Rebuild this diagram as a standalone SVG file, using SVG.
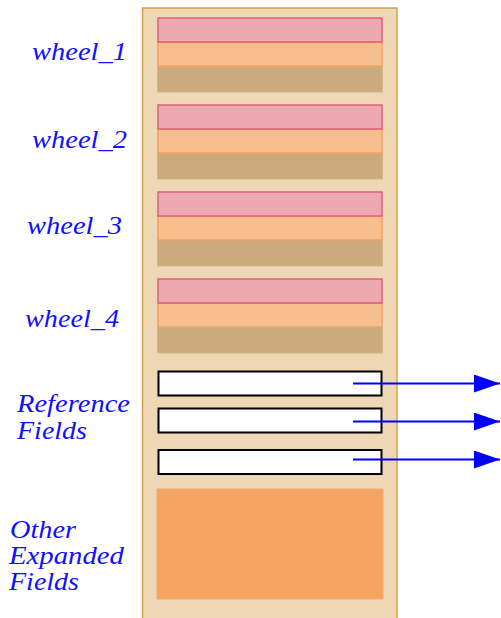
<svg xmlns="http://www.w3.org/2000/svg" width="501" height="618" viewBox="0 0 501 618">
<style>
.lbl{font-family:"Liberation Serif",serif;font-style:italic;font-size:25px;fill:#1010ff}
.pink{fill:#EDA9B0;stroke:#E06078;stroke-width:1.5}
.orng{fill:#F7BF8D;stroke:#F4A060;stroke-width:1.5}
.tan{fill:#CBAB7D;stroke:#D4B48A;stroke-width:1}
.ref{fill:#fff;stroke:#000;stroke-width:2}
.conn{stroke:#0000ff;stroke-width:2;fill:none}
</style>
<defs>
<marker id="ah" markerUnits="userSpaceOnUse" markerWidth="28" markerHeight="20" refX="26" refY="9" orient="auto">
<path d="M0,0 L26,9 L0,18 Z" fill="#0000ff"/>
</marker>
</defs>
<g id="object">
<rect x="142.5" y="8" width="254.5" height="612" fill="#EDD7B4" stroke="#D4A050" stroke-width="1.5"/>
</g>
<g id="wheel_1">
<rect class="tan" x="157.5" y="66" width="225" height="26"/>
<rect class="orng" x="158" y="42" width="224" height="24"/>
<rect class="pink" x="158" y="18" width="224" height="24"/>
<text class="lbl" x="32" y="60" textLength="95" lengthAdjust="spacingAndGlyphs">wheel_1</text>
</g>
<g id="wheel_2">
<rect class="tan" x="157.5" y="153" width="225" height="26"/>
<rect class="orng" x="158" y="129" width="224" height="24"/>
<rect class="pink" x="158" y="105" width="224" height="24"/>
<text class="lbl" x="32" y="148" textLength="95" lengthAdjust="spacingAndGlyphs">wheel_2</text>
</g>
<g id="wheel_3">
<rect class="tan" x="157.5" y="240" width="225" height="26"/>
<rect class="orng" x="158" y="216" width="224" height="24"/>
<rect class="pink" x="158" y="192" width="224" height="24"/>
<text class="lbl" x="27" y="234" textLength="95" lengthAdjust="spacingAndGlyphs">wheel_3</text>
</g>
<g id="wheel_4">
<rect class="tan" x="157.5" y="327" width="225" height="26"/>
<rect class="orng" x="158" y="303" width="224" height="24"/>
<rect class="pink" x="158" y="279" width="224" height="24"/>
<text class="lbl" x="25" y="327" textLength="94" lengthAdjust="spacingAndGlyphs">wheel_4</text>
</g>
<g id="reference_fields">
<rect class="ref" x="158.5" y="371.5" width="223" height="24"/>
<rect class="ref" x="158.5" y="408.5" width="223" height="24"/>
<rect class="ref" x="158.5" y="450" width="223" height="24"/>
<text class="lbl" x="17" y="412" textLength="113" lengthAdjust="spacingAndGlyphs">Reference</text>
<text class="lbl" x="17" y="439" textLength="70" lengthAdjust="spacingAndGlyphs">Fields</text>
</g>
<g id="other_expanded">
<rect x="157" y="489" width="226" height="110" fill="#F4A460" stroke="#F0AC70" stroke-width="1"/>
<text class="lbl" x="10" y="538" textLength="66" lengthAdjust="spacingAndGlyphs">Other</text>
<text class="lbl" x="9" y="564" textLength="115" lengthAdjust="spacingAndGlyphs">Expanded</text>
<text class="lbl" x="9" y="590" textLength="70" lengthAdjust="spacingAndGlyphs">Fields</text>
</g>
<g id="connectors">
<line class="conn" x1="353" y1="383.5" x2="500" y2="383.5" marker-end="url(#ah)"/>
<line class="conn" x1="353" y1="421.5" x2="500" y2="421.5" marker-end="url(#ah)"/>
<line class="conn" x1="353" y1="459.5" x2="500" y2="459.5" marker-end="url(#ah)"/>
</g>
</svg>
